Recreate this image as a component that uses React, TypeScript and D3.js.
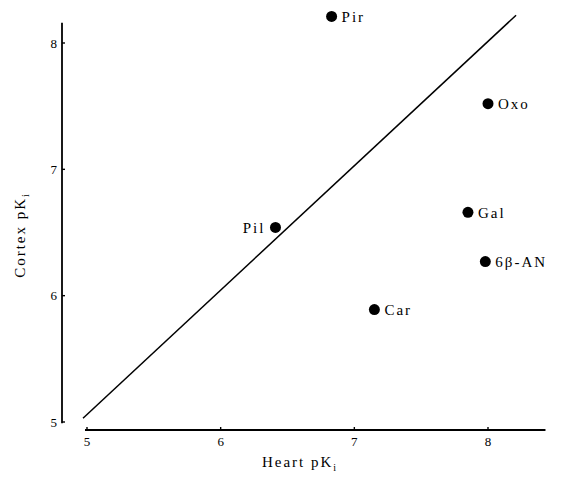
import React from "react";
import * as d3 from "d3";

// compound names and their pKi values (heart vs cortex)
const compounds = ["Pir", "Oxo", "Gal", "6β-AN", "Pil", "Car"];
const heartPK = [6.83, 8.0, 7.85, 7.98, 6.41, 7.15];
const cortexPK = [8.21, 7.52, 6.66, 6.27, 6.54, 5.89];
const labelSide = ["right", "right", "right", "right", "left", "right"];

const xTicks = [5, 6, 7, 8];
const yTicks = [5, 6, 7, 8];

// line of identity (endpoints as drawn)
const lineHeart = [4.97, 8.21];
const lineCortex = [5.03, 8.22];

const width = 580;
const height = 477;

const App = () => {
    let x = d3.scaleLinear().domain([5, 8]).range([87, 488]);
    let y = d3.scaleLinear().domain([5, 8]).range([422, 43]);

    const axisY = 62;
    const axisX = 430;

    const line = d3
        .line<number>()
        .x((d, i) => x(lineHeart[i]))
        .y(d => y(d));

    const font = "'Liberation Serif', 'DejaVu Serif', serif";

    return (
        <svg
            width={width}
            height={height}
            style={{ position: "absolute", left: 0, top: 0, background: "#fff" }}
            fontFamily={font}
        >
            {/* y axis */}
            <line x1={axisY} x2={axisY} y1={y(8.16)} y2={y(4.99)} stroke="#000" strokeWidth={1.8} />
            {yTicks.map(t => (
                <g key={"y" + t}>
                    <line x1={axisY} x2={axisY + 3} y1={y(t)} y2={y(t)} stroke="#000" strokeWidth={1.4} />
                    <text x={axisY - 5} y={y(t)} dy="0.35em" textAnchor="end" fontSize={13}>
                        {t}
                    </text>
                </g>
            ))}

            {/* x axis */}
            <line x1={x(4.985)} x2={x(8.43)} y1={axisX} y2={axisX} stroke="#000" strokeWidth={1.8} />
            {xTicks.map(t => (
                <g key={"x" + t}>
                    <line x1={x(t)} x2={x(t)} y1={axisX} y2={axisX - 3} stroke="#000" strokeWidth={1.4} />
                    <text x={x(t)} y={axisX + 16} textAnchor="middle" fontSize={13}>
                        {t}
                    </text>
                </g>
            ))}

            {/* axis titles */}
            <text x={300} y={467} textAnchor="middle" fontSize={15} letterSpacing={2}>
                Heart pK
                <tspan fontSize={10} dy={4}>i</tspan>
            </text>
            <text
                transform={`translate(25, 235) rotate(-90)`}
                textAnchor="middle"
                fontSize={15}
                letterSpacing={2}
            >
                Cortex pK
                <tspan fontSize={10} dy={4}>i</tspan>
            </text>

            {/* identity line */}
            <path d={line(lineCortex) || ""} fill="none" stroke="#000" strokeWidth={1.5} />

            {/* points */}
            {compounds.map((c, i) => (
                <g key={c}>
                    <circle cx={x(heartPK[i])} cy={y(cortexPK[i])} r={5.5} fill="#000" />
                    <text
                        x={x(heartPK[i]) + (labelSide[i] === "left" ? -10 : 10)}
                        y={y(cortexPK[i])}
                        dy="0.35em"
                        textAnchor={labelSide[i] === "left" ? "end" : "start"}
                        fontSize={15}
                        letterSpacing={2}
                    >
                        {c}
                    </text>
                </g>
            ))}
        </svg>
    );
};

export default App;
